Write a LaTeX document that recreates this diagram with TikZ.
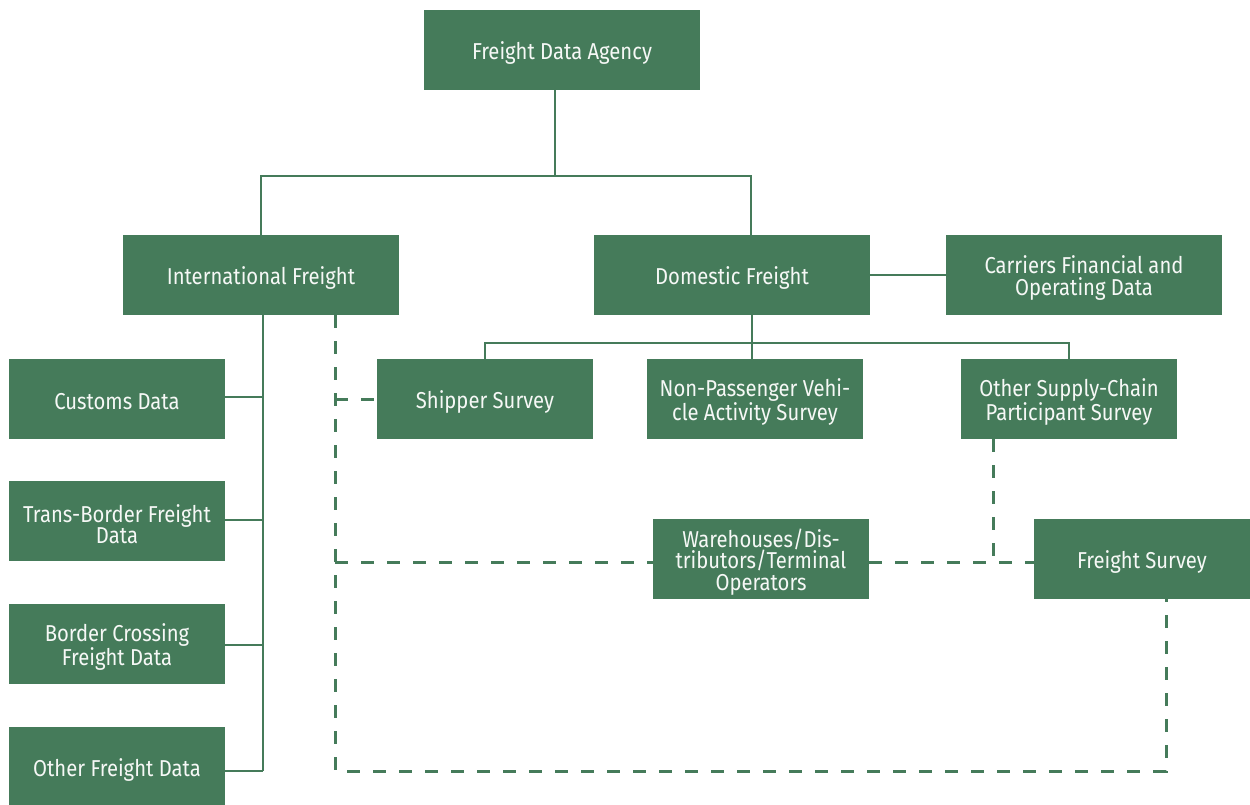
\documentclass[tikz,border=0pt]{standalone}
\usepackage{fontspec}
\setmainfont{Fira Sans}[FakeStretch=0.88]
\definecolor{fg}{RGB}{69,123,90}
\definecolor{tx}{RGB}{246,248,246}
\begin{document}
\begin{tikzpicture}[x=1pt,y=-1pt,
  lbl/.style={text=tx,inner sep=0pt,align=center,yshift=-3pt,font=\fontsize{23}{21.5}\selectfont},
  box/.style={fill=fg,inner sep=0pt},
  wbox/.style={box,minimum width=276pt,minimum height=80pt},
  nbox/.style={box,minimum width=216pt,minimum height=80pt},
  conn/.style={draw=fg,line width=2.6pt},
  dconn/.style={draw=fg,line width=3pt,dash pattern=on 13pt off 13pt}]
\useasboundingbox (0,0) rectangle (1250,805);
\node[wbox,label={[lbl]center:Freight Data Agency}] (agency) at (562,50) {};
\node[wbox,label={[lbl]center:International Freight}] (intl) at (261,275) {};
\node[wbox,label={[lbl]center:Domestic Freight}] (dom) at (732,275) {};
\node[wbox,label={[lbl]center:Carriers Financial and\\Operating Data}] (carr) at (1084,275) {};
\node[nbox,label={[lbl]center:Customs Data}] (customs) at (117,399) {};
\node[nbox,label={[lbl]center:Trans-Border Freight\\Data}] (trans) at (117,521) {};
\node[nbox,label={[lbl]center:Border Crossing\\Freight Data}] (border) at (117,644) {};
\node[nbox,label={[lbl]center:Other Freight Data}] (other) at (117,767) {};
\node[nbox,label={[lbl]center:Shipper Survey}] (shipper) at (485,399) {};
\node[nbox,label={[lbl]center:Non-Passenger Vehi-\\cle Activity Survey}] (nonpass) at (755,399) {};
\node[nbox,label={[lbl]center:Other Supply-Chain\\Participant Survey}] (osc) at (1069,399) {};
\node[nbox,label={[lbl]center:Warehouses/Dis-\\tributors/Terminal\\Operators}] (ware) at (761,559) {};
\node[nbox,label={[lbl]center:Freight Survey}] (fsurv) at (1142,559) {};
% solid connectors
\coordinate (j1) at (555,176);
\coordinate (jd) at (751,176);
\draw[conn] (agency.south -| j1) -- (j1);
\draw[conn] (intl.north) |- (jd) -- (jd |- dom.north);
\draw[conn] (dom.east) -- (carr.west);
\coordinate (j2) at (752,343);
\draw[conn] (dom.south -| j2) -- (j2);
\draw[conn] (shipper.north) |- (j2) -| (osc.north);
\draw[conn] (j2) -- (j2 |- nonpass.north);
\coordinate (ji) at (263,771);
\draw[conn] (intl.south -| ji) -- (ji);
\draw[conn] (customs.east |- 0,397) -- (ji |- 0,397);
\draw[conn] (trans.east |- 0,520) -- (ji |- 0,520);
\draw[conn] (border.east |- 0,645) -- (ji |- 0,645);
\draw[conn] (other.east |- ji) -- (ji);
% dashed connectors
\coordinate (d1) at (335,771);
\coordinate (d2) at (1166,771);
\coordinate (dw) at (335,562);
\coordinate (dv) at (993,562);
\draw[dconn] (intl.south -| d1) -- (d1) -- (d2) -- (d2 |- fsurv.south);
\draw[dconn] (shipper.west -| d1) -- (shipper.west);
\draw[dconn] (dw) -- (ware.west |- dw);
\draw[dconn] (ware.east |- dw) -- (fsurv.west |- dw);
\draw[dconn] (osc.south -| dv) -- (dv);
\end{tikzpicture}
\end{document}
